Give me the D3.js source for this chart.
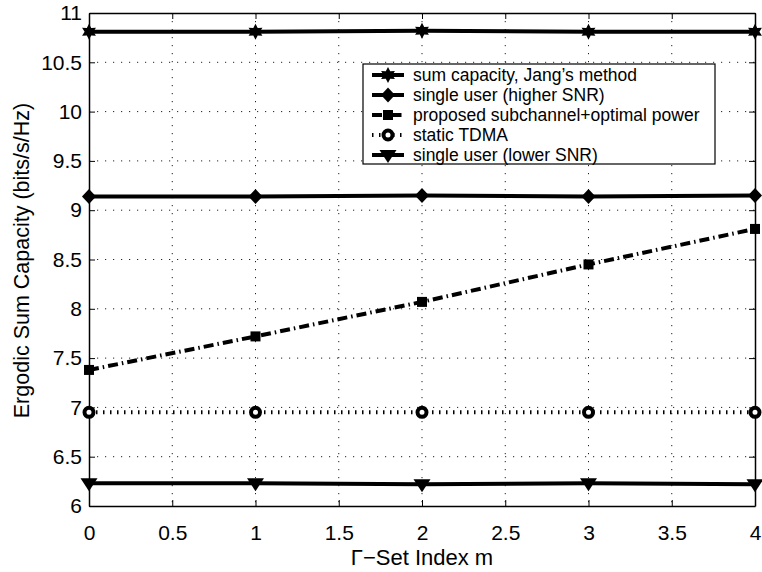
<!DOCTYPE html>
<html><head><meta charset="utf-8">
<script src="https://cdn.jsdelivr.net/npm/d3@7/dist/d3.min.js"></script>
<style>body{margin:0;background:#fff}svg{display:block}text{font-family:"Liberation Sans",Arial,sans-serif}</style>
</head><body><svg id="c" width="762" height="572"></svg>
<script>
const xValues = [0, 1, 2, 3, 4];
const jang = [10.81, 10.81, 10.82, 10.81, 10.81];
const higherSNR = [9.14, 9.14, 9.15, 9.14, 9.15];
const proposed = [7.38, 7.72, 8.07, 8.45, 8.81];
const tdma = [6.95, 6.95, 6.95, 6.95, 6.95];
const lowerSNR = [6.23, 6.23, 6.22, 6.23, 6.22];
const xTicks = [0, 0.5, 1, 1.5, 2, 2.5, 3, 3.5, 4];
const yTicks = [6, 6.5, 7, 7.5, 8, 8.5, 9, 9.5, 10, 10.5, 11];
const legendLabels = ["sum capacity, Jang\u2019s method", "single user (higher SNR)", "proposed subchannel+optimal power", "static TDMA", "single user (lower SNR)"];

const svg = d3.select("#c");
const L = 89, R = 755, T = 13, B = 506;
const x = d3.scaleLinear().domain([0, 4]).range([L, R]);
const y = d3.scaleLinear().domain([6, 11]).range([B, T]);

// grid
const g = svg.append("g");
g.selectAll(".gx").data(xTicks.slice(1, -1)).enter().append("line")
  .attr("x1", d => x(d)).attr("x2", d => x(d)).attr("y1", T).attr("y2", B)
  .attr("stroke", "#222").attr("stroke-width", 1).attr("stroke-dasharray", "1.2,6.8");
g.selectAll(".gy").data(yTicks.slice(1, -1)).enter().append("line")
  .attr("y1", d => y(d)).attr("y2", d => y(d)).attr("x1", L).attr("x2", R)
  .attr("stroke", "#222").attr("stroke-width", 1).attr("stroke-dasharray", "1.2,6.8");

// axes
const fmt = d => String(d);
const ax = svg.append("g").attr("transform", `translate(0,${B})`)
  .call(d3.axisBottom(x).tickValues(xTicks).tickFormat(fmt).tickSizeInner(-6).tickSizeOuter(0));
const ay = svg.append("g").attr("transform", `translate(${L},0)`)
  .call(d3.axisLeft(y).tickValues(yTicks).tickFormat(fmt).tickSizeInner(-6).tickSizeOuter(0).tickPadding(7));
svg.append("g").attr("transform", `translate(0,${T})`)
  .call(d3.axisTop(x).tickValues(xTicks).tickFormat("").tickSizeInner(-6).tickSizeOuter(0));
svg.append("g").attr("transform", `translate(${R},0)`)
  .call(d3.axisRight(y).tickValues(yTicks).tickFormat("").tickSizeInner(-6).tickSizeOuter(0));
svg.selectAll(".domain").attr("stroke", "#000").attr("stroke-width", 1.5);
svg.selectAll(".tick line").attr("stroke", "#000");
svg.selectAll(".tick text").attr("font-size", 21).attr("fill", "#000").style("font-family", "'Liberation Sans',Arial,sans-serif");
ax.selectAll(".tick text").attr("y", 34).attr("dy", 0);

svg.append("text").attr("x", (L + R) / 2).attr("y", 565).attr("text-anchor", "middle")
  .attr("font-size", 22).text("\u0393\u2212Set Index m");
svg.append("text").attr("transform", `translate(29,260.5) rotate(-90)`).attr("text-anchor", "middle")
  .attr("font-size", 21.5).text("Ergodic Sum Capacity (bits/s/Hz)");

// markers
function star6(r) {
  const pts = [];
  for (let i = 0; i < 12; i++) {
    const a = -Math.PI / 2 + i * Math.PI / 6;
    const rr = i % 2 === 0 ? r : r * 0.55;
    pts.push([rr * Math.cos(a), rr * Math.sin(a)]);
  }
  return "M" + pts.map(p => p.join(",")).join("L") + "Z";
}
const markers = {
  star: (s, cx, cy) => s.append("path").attr("d", star6(8)).attr("transform", `translate(${cx},${cy})`).attr("fill", "#000"),
  diamond: (s, cx, cy) => s.append("path").attr("d", "M0,-7.5L7,0L0,7.5L-7,0Z").attr("transform", `translate(${cx},${cy})`).attr("fill", "#000"),
  square: (s, cx, cy) => s.append("rect").attr("x", cx - 5).attr("y", cy - 5).attr("width", 10).attr("height", 10).attr("fill", "#000"),
  circle: (s, cx, cy) => s.append("circle").attr("cx", cx).attr("cy", cy).attr("r", 4.5).attr("fill", "#fff").attr("stroke", "#000").attr("stroke-width", 4),
  tri: (s, cx, cy) => s.append("path").attr("d", "M-8.5,-5L8.5,-5L0,8Z").attr("transform", `translate(${cx},${cy})`).attr("fill", "#000")
};

const series = [
  { data: jang, dash: null, marker: "star" },
  { data: higherSNR, dash: null, marker: "diamond" },
  { data: proposed, dash: "10,4,1.5,4", marker: "square" },
  { data: tdma, dash: "1.5,5.5", marker: "circle" },
  { data: lowerSNR, dash: null, marker: "tri" }
];
const line = d3.line().x((d, i) => x(xValues[i])).y(d => y(d));
const sg = svg.append("g");
series.forEach(s => {
  sg.append("path").attr("d", line(s.data)).attr("fill", "none").attr("stroke", "#000")
    .attr("stroke-width", 4).attr("stroke-dasharray", s.dash);
  s.data.forEach((v, i) => markers[s.marker](sg, x(xValues[i]), y(v)));
});

// legend
const lg = svg.append("g");
lg.append("rect").attr("x", 363).attr("y", 64).attr("width", 352).attr("height", 100)
  .attr("fill", "#fff").attr("stroke", "#000").attr("stroke-width", 1.2);
series.forEach((s, i) => {
  const cy = 75 + i * 20;
  lg.append("line").attr("x1", 372).attr("x2", 404).attr("y1", cy).attr("y2", cy)
    .attr("stroke", "#000").attr("stroke-width", 4).attr("stroke-dasharray", s.dash);
  markers[s.marker](lg, 388, cy);
  lg.append("text").attr("x", 413).attr("y", cy + 6).attr("font-size", 17.5).text(legendLabels[i]);
});
</script></body></html>
